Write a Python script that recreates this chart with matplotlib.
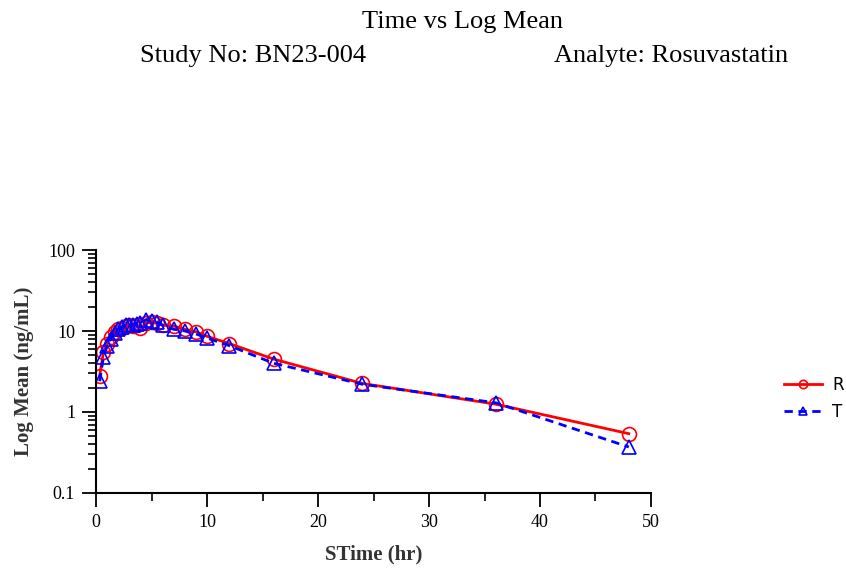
import matplotlib
matplotlib.use("Agg")
import matplotlib.pyplot as plt
from matplotlib.ticker import LogLocator, FixedLocator, NullFormatter

time_hr = [0.33, 0.67, 1.0, 1.33, 1.67, 2.0, 2.33, 2.67, 3.0, 3.33, 3.67, 4.0,
           4.5, 5.0, 5.5, 6.0, 7.0, 8.0, 9.0, 10.0, 12.0, 16.0, 24.0, 36.0, 48.0]
mean_R = [2.8, 5.5, 7.0, 8.5, 9.8, 10.5, 11.0, 11.5, 11.8, 11.5, 11.8, 10.8,
          12.5, 12.8, 12.5, 11.8, 11.5, 10.5, 9.8, 8.6, 7.0, 4.5, 2.25, 1.25, 0.54]
mean_T = [2.4, 4.8, 6.5, 8.0, 9.5, 10.5, 11.2, 11.8, 12.0, 11.8, 12.2, 12.5,
          13.8, 13.2, 12.8, 11.8, 10.5, 10.0, 9.2, 8.2, 6.6, 4.0, 2.2, 1.3, 0.37]
x_ticks = [0, 10, 20, 30, 40, 50]
y_ticks = [0.1, 1, 10, 100]
y_tick_labels = ["0.1", "1", "10", "100"]

serif = ["Liberation Serif", "DejaVu Serif"]

fig = plt.figure(figsize=(8.46, 5.69), dpi=100)
ax = fig.add_axes([0.1135, 0.1336, 0.656, 0.4270])

ax.plot(time_hr, mean_R, color="#ff0000", lw=2, marker="o", ms=10,
        mfc="none", mec="#ff0000", mew=1.2, label="R")
ax.plot(time_hr, mean_T, color="#0000ff", lw=2, ls=(0, (3, 2)), marker="^", ms=10,
        mfc="none", mec="#0000ff", mew=1.2, label="T")

ax.set_yscale("log")
ax.set_ylim(0.1, 100)
ax.set_xlim(0, 50)
ax.set_yticks(y_ticks)
ax.set_yticklabels(y_tick_labels)
ax.yaxis.set_minor_locator(LogLocator(base=10, subs=range(2, 10)))
ax.yaxis.set_minor_formatter(NullFormatter())
ax.set_xticks(x_ticks)
ax.xaxis.set_minor_locator(FixedLocator([5, 15, 25, 35, 45]))

for s in ["top", "right"]:
    ax.spines[s].set_visible(False)
for s in ["left", "bottom"]:
    ax.spines[s].set_linewidth(1.5)
    ax.spines[s].set_color("black")

ax.tick_params(axis="both", which="major", direction="out", length=10, width=1.3,
               labelsize=13, colors="black", pad=5)
ax.tick_params(axis="both", which="minor", direction="out", length=6, width=1.2)
for lab in ax.get_xticklabels() + ax.get_yticklabels():
    lab.set_fontfamily(serif)

ax.set_xlabel("STime (hr)", fontsize=15, family=serif, fontweight="bold",
              color="#333333", labelpad=10)
ax.set_ylabel("Log Mean (ng/mL)", fontsize=15, family=serif, fontweight="bold",
              color="#333333", labelpad=10)

leg = ax.legend(loc="center left", bbox_to_anchor=(1.212, 0.39), frameon=False,
                fontsize=12, handlelength=2.3, labelspacing=0.55, handletextpad=0.6,
                markerscale=0.6)

fig.text(0.547, 0.962, "Time vs Log Mean", ha="center", va="center",
         fontsize=19, family=serif)
fig.text(0.165, 0.902, "Study No: BN23-004", ha="left", va="center",
         fontsize=19, family=serif)
fig.text(0.655, 0.902, "Analyte: Rosuvastatin", ha="left", va="center",
         fontsize=19, family=serif)

fig.savefig("out.png", dpi=100)
